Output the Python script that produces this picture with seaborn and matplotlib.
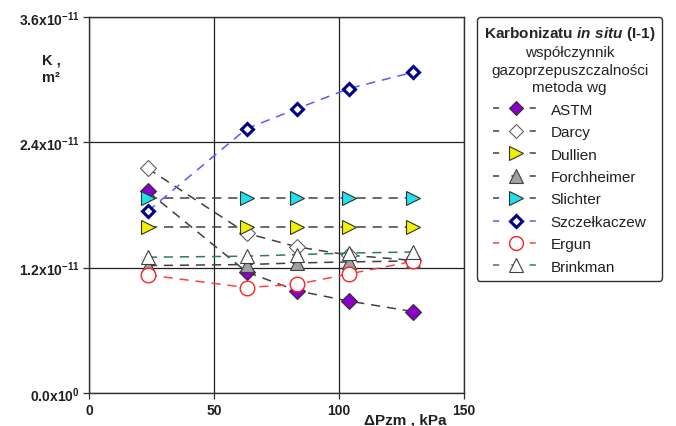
import numpy as np
import pandas as pd
import matplotlib
matplotlib.use("Agg")
import matplotlib.pyplot as plt
import seaborn as sns
from matplotlib.lines import Line2D

# ---- data ----
dp = [23.5, 63, 83, 104, 129.5]  # kPa
astm = [1.93e-11, 1.16e-11, 0.98e-11, 0.88e-11, 0.78e-11]
darcy = [2.15e-11, 1.53e-11, 1.40e-11, 1.32e-11, 1.27e-11]
dullien = [1.59e-11, 1.59e-11, 1.59e-11, 1.59e-11, 1.59e-11]
forchheimer = [1.22e-11, 1.23e-11, 1.245e-11, 1.255e-11, 1.265e-11]
slichter = [1.87e-11, 1.87e-11, 1.87e-11, 1.87e-11, 1.87e-11]
szczelkaczew = [1.74e-11, 2.53e-11, 2.72e-11, 2.915e-11, 3.07e-11]
ergun = [1.13e-11, 1.01e-11, 1.04e-11, 1.14e-11, 1.26e-11]
brinkman = [1.30e-11, 1.31e-11, 1.325e-11, 1.34e-11, 1.35e-11]

series_names = ["ASTM", "Darcy", "Dullien", "Forchheimer", "Slichter",
                "Szczełkaczew", "Ergun", "Brinkman"]
series_values = [astm, darcy, dullien, forchheimer, slichter,
                 szczelkaczew, ergun, brinkman]
yticks = [0.0, 1.2e-11, 2.4e-11, 3.6e-11]
ytick_labels = [r"0.0x10$^{0}$", r"1.2x10$^{-11}$", r"2.4x10$^{-11}$", r"3.6x10$^{-11}$"]
xticks = [0, 50, 100, 150]

# ---- styles ----
styles = {
    "ASTM":         dict(line="#404040", marker="D", mfc="#8a00c8", mec="#303030", ms=8,   mew=0.8),
    "Darcy":        dict(line="#404040", marker="D", mfc="white",   mec="#606060", ms=8,   mew=0.8),
    "Dullien":      dict(line="#404040", marker=">", mfc="#f0f000", mec="#303030", ms=10,  mew=0.8),
    "Forchheimer":  dict(line="#404040", marker="^", mfc="#a0a0a0", mec="#404040", ms=10,  mew=0.8),
    "Slichter":     dict(line="#404040", marker=">", mfc="#20e0e8", mec="#303030", ms=10,  mew=0.8),
    "Szczełkaczew": dict(line="#5a5aff", marker="D", mfc="white",   mec="#00008b", ms=6.5, mew=2.2),
    "Ergun":        dict(line="#ff4040", marker="o", mfc="white",   mec="#ff2020", ms=10.5, mew=1.0),
    "Brinkman":     dict(line="#2e7d50", marker="^", mfc="white",   mec="#404040", ms=10,  mew=0.8),
}

sns.set_theme(style="white")
plt.rcParams["font.family"] = ["Liberation Sans", "DejaVu Sans"]
plt.rcParams["mathtext.fontset"] = "custom"
plt.rcParams["mathtext.rm"] = "Liberation Sans:bold"
plt.rcParams["mathtext.it"] = "Liberation Sans:bold:italic"
plt.rcParams["mathtext.bf"] = "Liberation Sans:bold"

fig = plt.figure(figsize=(6.76, 4.27), dpi=100)
ax = fig.add_axes([89/676, 1-394/427, (464-89)/676, (394-18)/427])

dash = (0, (6, 4.5))
for name, vals in zip(series_names, series_values):
    st = styles[name]
    df = pd.DataFrame({"dp": dp, "k": vals})
    sns.lineplot(data=df, x="dp", y="k", ax=ax, color=st["line"], sort=False,
                 estimator=None, linewidth=1.1, linestyle=dash,
                 marker=st["marker"], markerfacecolor=st["mfc"],
                 markeredgecolor=st["mec"], markersize=st["ms"],
                 markeredgewidth=st["mew"], legend=False)

ax.set_xlim(0, 150)
ax.set_ylim(0, 3.6e-11)
ax.set_xticks(xticks)
ax.set_yticks(yticks)
ax.set_xticklabels([str(t) for t in xticks], fontweight="bold", fontsize=10, color="#202020")
ax.set_yticklabels(ytick_labels, fontsize=10, fontweight="bold", color="#202020")
ax.tick_params(axis="both", direction="out", length=4, width=0.9, color="#303030",
               bottom=True, left=True, pad=3)
ax.grid(True, color="#202020", linewidth=0.9)
ax.set_axisbelow(True)
for sp in ax.spines.values():
    sp.set_color("#303030")
    sp.set_linewidth(1.0)
ax.set_xlabel("")
ax.set_ylabel("")

fig.text(51/676, 1-61/427, "K ,", ha="center", va="center", fontsize=10.5,
         fontweight="bold", color="#202020")
fig.text(51/676, 1-78/427, "m²", ha="center", va="center", fontsize=10.5,
         fontweight="bold", color="#202020")
fig.text(405/676, 1-421/427, "ΔPzm , kPa", ha="center", va="center", fontsize=11,
         fontweight="bold", color="#202020")

# legend
handles = []
for name in series_names:
    st = styles[name]
    handles.append(Line2D([], [], color=st["line"], linestyle=(0, (4, 8)), linewidth=1.1,
                          marker=st["marker"], markerfacecolor=st["mfc"],
                          markeredgecolor=st["mec"], markersize=st["ms"] * 0.95,
                          markeredgewidth=st["mew"]))
title = (r"$\mathrm{Karbonizatu}\ \mathit{in\ situ}\ \mathrm{(I\text{-}1)}$" "\n"
         "współczynnik\ngazoprzepuszczalności\nmetoda wg")
leg = fig.legend(handles, series_names, loc="upper left",
                 bbox_to_anchor=(477/676, 1-18/427), title=title,
                 fontsize=11, title_fontsize=11, frameon=True, fancybox=True,
                 edgecolor="#303030", facecolor="white", framealpha=1,
                 handlelength=3.0, handletextpad=0.8, labelspacing=0.55,
                 borderpad=0.45, borderaxespad=0)
leg.get_frame().set_linewidth(1.0)
leg.get_title().set_multialignment("center")
leg.get_title().set_linespacing(1.32)
for t in leg.get_texts():
    t.set_color("#202020")

fig.savefig("out.png", dpi=100)
